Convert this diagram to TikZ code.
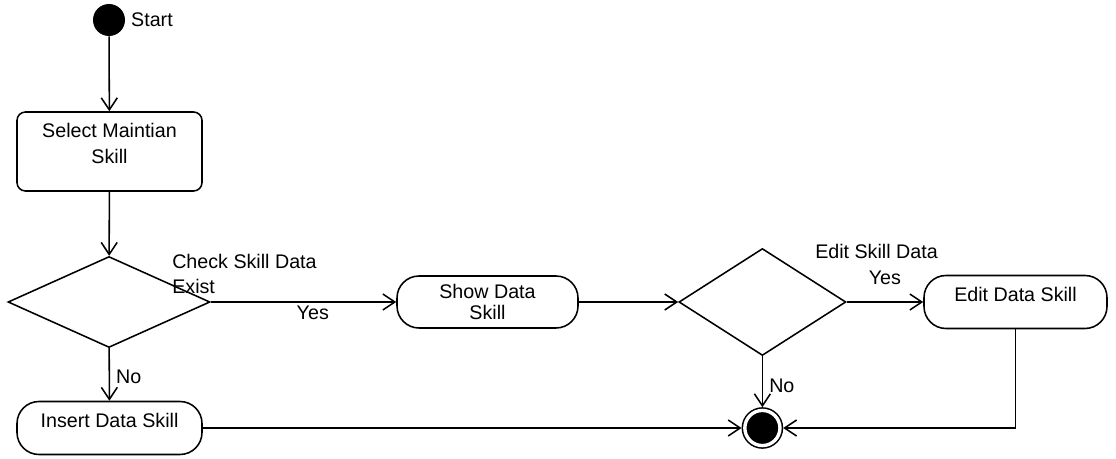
\documentclass[tikz,border=0pt]{standalone}
\usepackage{fontspec}
\setmainfont{Liberation Sans}
\usepackage{tikz}
\usetikzlibrary{shapes.geometric,arrows.meta}
\pgfdeclarelayer{nodelayer}
\pgfdeclarelayer{edgelayer}
\pgfsetlayers{nodelayer, edgelayer, main}

\begin{document}
\begin{tikzpicture} [scale=1,
    every node/.style={font=\fontsize{14}{18}\selectfont},
    flow/.style={line width=1.1pt, -{Straight Barb[length=3mm,width=4mm]}},
    activity/.style={draw, line width=1.1pt, rounded corners=6pt, inner sep=0pt},
    action/.style={draw, line width=1.1pt, rectangle, rounded corners=0.55cm, inner sep=0pt},
    decision/.style={draw, line width=1.1pt, diamond, inner sep=0pt},
    toptext/.style={anchor=north, align=center, inner sep=8.5pt}]
    \useasboundingbox (0,0) rectangle (27.9,11.45);
	\begin{pgfonlayer}{nodelayer}
        \node[circle, fill=black, minimum size=0.8cm, inner sep=0pt,
            label={[inner sep=4pt]east:Start}] (1) at (2.725,10.95) {};
        \node[activity, minimum width=4.625cm, minimum height=1.975cm,
            label={[toptext]north:Select Maintian\\Skill}] (2) at (2.7375,7.6625) {};
        \node[decision, minimum width=5.05cm, minimum height=2.275cm] (3) at (2.725,3.9) {};
        \node[anchor=west, align=left, inner sep=0pt] (3t) at (4.3,4.6) {Check Skill Data\\Exist};
        \node[action, minimum width=4.625cm, minimum height=1.325cm,
            label={[toptext]north:Insert Data Skill}] (4) at (2.7375,0.75) {};
        \node[action, minimum width=4.525cm, minimum height=1.3cm, align=center] (5) at (12.1875,3.9) {Show Data\\[-3pt]Skill};
        \node[decision, minimum width=4.175cm, minimum height=2.675cm] (7) at (19.06,3.9) {};
        \node[inner sep=0pt] (7t) at (21.9125,5.175) {Edit Skill Data};
        \node[action, minimum width=4.575cm, minimum height=1.325cm,
            label={[toptext]north:Edit Data Skill}] (8) at (25.3875,3.9) {};
        \node[circle, draw, fill=black, double=white, double distance=2.4pt, line width=1.1pt,
            minimum size=25pt, inner sep=0pt, outer sep=2.3pt] (9) at (19.06,0.75) {};
	\end{pgfonlayer}
	\begin{pgfonlayer}{edgelayer}
        \draw[flow] (1) to (2);
        \draw[flow] (2) to (3);
        \draw[flow] (3) to node [below, pos=0.55, inner sep=2pt] {Yes} (5);
        \draw[flow] (3) to node [right, pos=0.55, xshift=1pt] {No} (4);
        \draw[flow] (5) to (7);
        \draw[flow] (7) to node [above, yshift=3mm] {Yes} (8);
        \draw[flow] (7) to node [right, pos=0.58, xshift=1pt] {No} (9);
        \draw[flow] (4) to (9);
        \draw[flow] (8.south) |- (9);
	\end{pgfonlayer}
    \end{tikzpicture}
\end{document}
